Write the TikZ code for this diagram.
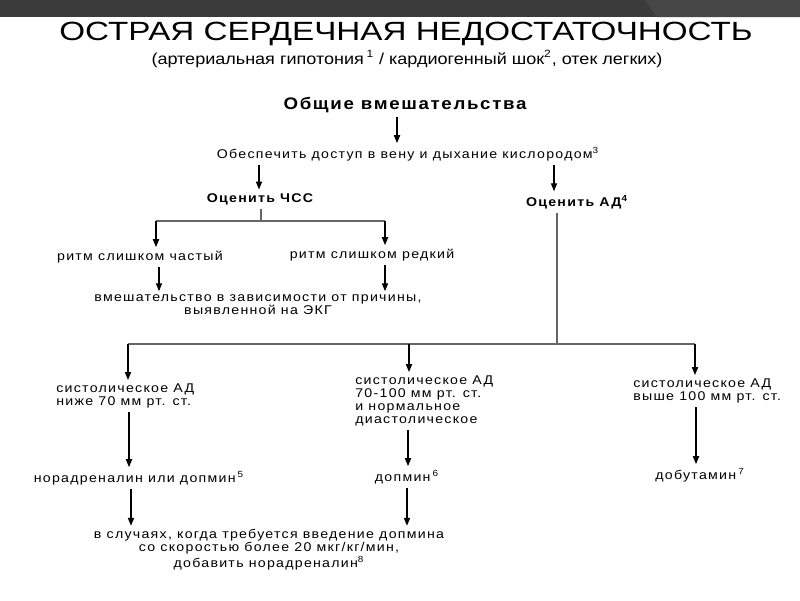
\documentclass[tikz,border=0pt]{standalone}
\usepackage{fontspec}
\setmainfont{Liberation Sans}[FakeStretch=1.12,LetterSpace=10]
\newfontfamily\titlefont{Liberation Sans}[FakeStretch=1.26]
\newfontfamily\subfont{Liberation Sans}[FakeStretch=1.14]
\usetikzlibrary{positioning,arrows.meta}

\begin{document}
\begin{tikzpicture}
  [x=0.02cm,y=-0.02cm,
   every node/.style={inner xsep=0pt, inner ysep=2pt, align=center, font=\fontsize{7.2}{7.4}\selectfont},
   head/.style={font=\fontsize{7.2}{7.4}\selectfont\bfseries},
   arr/.style={-{Triangle[width=3.5pt,length=4.5pt]}, line width=0.7pt},
   bar/.style={black!60, line width=0.9pt}]
  \useasboundingbox (0,0) rectangle (800,600);
  \fill[white] (0,0) rectangle (800,600);
  % top band
  \fill[black!77] (0,0) rectangle (800,17);
  \fill[black!72] (645,0) -- (800,0) -- (800,17) -- (657,17) -- cycle;

  \node (title) at (406,34) {\titlefont\fontsize{15}{17}\selectfont ОСТРАЯ СЕРДЕЧНАЯ НЕДОСТАТОЧНОСТЬ};
  \node (sub) at (407,59) {\subfont\fontsize{9}{11}\selectfont (артериальная гипотония\,\textsuperscript{1} / кардиогенный шок\textsuperscript{2}, отек легких)};

  \node[head, font=\fontsize{9.5}{11}\selectfont\bfseries] (general) at (405,105) {Общие вмешательства};
  \node (care) at (408,154) {Обеспечить доступ в вену и дыхание кислородом\textsuperscript{3}};
  \node[head] (hr) at (260,199) {Оценить ЧСС};
  \node[head] (bp) at (577,202) {Оценить АД\textsuperscript{4}};
  \node (fast) at (140,257) {ритм слишком частый};
  \node (slow) at (372,255) {ритм слишком редкий};
  \node (ecg) at (258,305) {вмешательство в зависимости от причины,\\выявленной на ЭКГ};
  \node[anchor=west, align=left] (low) at (56,396) {систолическое АД\\ниже 70 мм рт. ст.};
  \node[anchor=west, align=left] (mid) at (355,401) {систолическое АД\\70-100 мм рт. ст.\\и нормальное\\диастолическое};
  \node[anchor=west, align=left] (high) at (633,391) {систолическое АД\\выше 100 мм рт. ст.};
  \node (nor) at (139,478) {норадреналин или допмин\,\textsuperscript{5}};
  \node (dop) at (407,477) {допмин\,\textsuperscript{6}};
  \node (dob) at (700,475) {добутамин\,\textsuperscript{7}};
  \node (case) at (269,550) {в случаях, когда требуется введение допмина\\со скоростью более 20 мкг/кг/мин,\\добавить норадреналин\textsuperscript{8}};

  \coordinate (hrj) at (261,221);
  \coordinate (bpj) at (557,344);

  \foreach \from/\to/\x in {general/care/397, care/hr/259, care/bp/554, fast/ecg/159, slow/ecg/385,
                           low/nor/129, mid/dop/408, high/dob/696, nor/case/131, dop/case/407}
    \draw[arr] (\from.south -| \x,0) -- (\to.north -| \x,0);

  \draw[bar] (hr.south -| hrj) -- (hrj);
  \draw[bar] (hrj -| 156,0) -- (hrj -| 385,0);
  \draw[bar] (bp.south -| bpj) -- (bpj);
  \draw[bar] (bpj -| 128,0) -- (bpj -| 695,0);
  \foreach \to/\x in {fast/156, slow/385}
    \draw[arr] (hrj -| \x,0) -- (\to.north -| \x,0);
  \foreach \to/\x in {low/128, mid/409, high/695}
    \draw[arr] (bpj -| \x,0) -- (\to.north -| \x,0);
\end{tikzpicture}
\end{document}
